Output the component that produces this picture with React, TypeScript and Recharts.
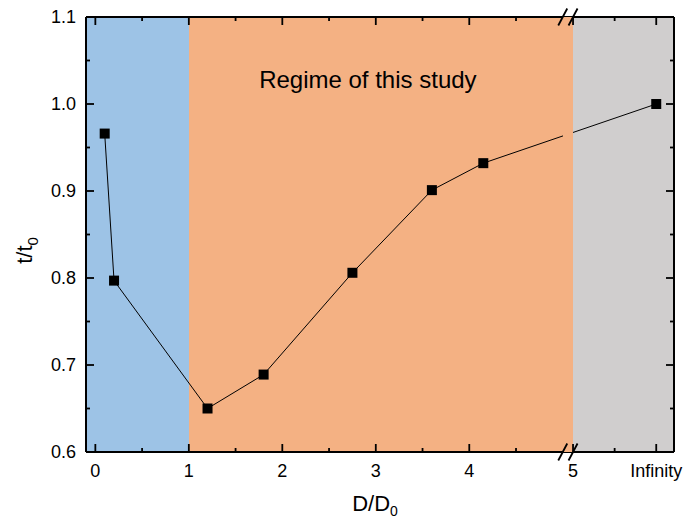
import React from "react";
import { LineChart, Line, XAxis, YAxis, ReferenceArea, ReferenceLine } from "recharts";

// measured points, D/D0 (Infinity = unbounded) vs t/t0
const X_VALUES = [0.1, 0.2, 1.2, 1.8, 2.75, 3.6, 4.15, Infinity];
const T_VALUES = [0.966, 0.797, 0.65, 0.689, 0.806, 0.901, 0.932, 1.0];

const X_MAJOR = [0, 1, 2, 3, 4, 5, Infinity];
const X_LABELS = ["0", "1", "2", "3", "4", "5", "Infinity"];
const X_MINOR = [0.5, 1.5, 2.5, 3.5, 4.5];
const Y_MAJOR = [0.6, 0.7, 0.8, 0.9, 1.0, 1.1];
const Y_MINOR = [0.65, 0.75, 0.85, 0.95, 1.05];

const BLUE = "#9DC3E6";
const ORANGE = "#F4B183";
const GRAY = "#D0CECE";
const FONT = "'Liberation Sans', Arial, sans-serif";

// broken x axis: 0..5 linear, small gap, then 5 .. Infinity
const BREAK_AT = 5;
const GAP = 0.11;
const INF_POS = 6;
const X_DOMAIN: [number, number] = [-0.1, 6.19];
const toAxis = (x: number) => (x === Infinity ? INF_POS : x < BREAK_AT ? x : x + GAP);

const data = X_VALUES.map((x, i) => ({ pos: toAxis(x), t: T_VALUES[i] }));

const xMajorPos = X_MAJOR.map(toAxis);
const xMinorPos = [...X_MINOR.map(toAxis), (toAxis(BREAK_AT) + INF_POS) / 2];
const xTicks = [...xMajorPos, ...xMinorPos].sort((a, b) => a - b);
const yTicks = [...Y_MAJOR, ...Y_MINOR].sort((a, b) => a - b);

const isXMajor = (v: number) => xMajorPos.findIndex((p) => Math.abs(p - v) < 1e-6);
const isYMajor = (v: number) => Y_MAJOR.some((p) => Math.abs(p - v) < 1e-6);

const TICK_W = 1.8;

const BottomTick = (props: any) => {
    const { x, y, payload } = props;
    const i = isXMajor(payload.value);
    return (
        <g>
            <line x1={x} x2={x} y1={y} y2={y - (i >= 0 ? 8 : 4)} stroke="#000" strokeWidth={TICK_W} />
            {i >= 0 && (
                <text x={x} y={y + 25} textAnchor="middle" fontSize={18} fill="#000">
                    {X_LABELS[i]}
                </text>
            )}
        </g>
    );
};

const TopTick = (props: any) => {
    const { x, y, payload } = props;
    const major = isXMajor(payload.value) >= 0;
    return <line x1={x} x2={x} y1={y} y2={y + (major ? 8 : 4)} stroke="#000" strokeWidth={TICK_W} />;
};

const LeftTick = (props: any) => {
    const { x, y, payload } = props;
    const major = isYMajor(payload.value);
    return (
        <g>
            <line x1={x} x2={x + (major ? 8 : 4)} y1={y} y2={y} stroke="#000" strokeWidth={TICK_W} />
            {major && (
                <text x={x - 10} y={y} dy="0.36em" textAnchor="end" fontSize={18} fill="#000">
                    {payload.value.toFixed(1)}
                </text>
            )}
        </g>
    );
};

const RightTick = (props: any) => {
    const { x, y, payload } = props;
    const major = isYMajor(payload.value);
    return <line x1={x} x2={x - (major ? 8 : 4)} y1={y} y2={y} stroke="#000" strokeWidth={TICK_W} />;
};

const SquareDot = (props: any) => {
    const { cx, cy, index } = props;
    return <rect key={`dot-${index}`} x={cx - 5} y={cy - 5} width={10} height={10} fill="#000" />;
};

// the "//" marks on the top and bottom frame at the break
const SLASH_DX = 0.048;
const SLASH_DY = 0.0098;
const slashes = [BREAK_AT, toAxis(BREAK_AT)].flatMap((cx) =>
    [1.1, 0.6].map((cy) => [
        { x: cx - SLASH_DX, y: cy - SLASH_DY },
        { x: cx + SLASH_DX, y: cy + SLASH_DY },
    ])
);

const App: React.FC = () => {
    return (
        <div style={{ position: "absolute", left: 0, top: 0 }}>
            <LineChart
                width={684}
                height={519}
                data={data}
                margin={{ top: 0, right: 0, bottom: 0, left: 0 }}
                style={{ fontFamily: FONT }}
            >
                <XAxis
                    dataKey="pos"
                    type="number"
                    domain={X_DOMAIN}
                    allowDataOverflow
                    ticks={xTicks}
                    interval={0}
                    height={67}
                    tickSize={0}
                    tickMargin={0}
                    tickLine={false}
                    tick={<BottomTick />}
                    axisLine={{ stroke: "#000", strokeWidth: 2 }}
                    label={(p: any) => {
                        const vb = p.viewBox;
                        const cx = vb.x + vb.width / 2 - 5;
                        const by = vb.y + 59;
                        return (
                            <text x={cx} y={by} textAnchor="middle" fontSize={22} fill="#000">
                                D/D<tspan fontSize={14} dy={5}>0</tspan>
                            </text>
                        );
                    }}
                />
                <XAxis
                    xAxisId="top"
                    orientation="top"
                    dataKey="pos"
                    type="number"
                    domain={X_DOMAIN}
                    allowDataOverflow
                    ticks={xTicks}
                    interval={0}
                    height={17}
                    tickSize={0}
                    tickMargin={0}
                    tickLine={false}
                    tick={<TopTick />}
                    axisLine={{ stroke: "#000", strokeWidth: 2 }}
                />
                <YAxis
                    type="number"
                    domain={[0.6, 1.1]}
                    allowDataOverflow
                    ticks={yTicks}
                    interval={0}
                    width={86}
                    tickSize={0}
                    tickMargin={0}
                    tickLine={false}
                    tick={<LeftTick />}
                    axisLine={{ stroke: "#000", strokeWidth: 2 }}
                    label={(p: any) => {
                        const vb = p.viewBox;
                        const bx = vb.x + 32;
                        const cy = vb.y + vb.height / 2 + 16;
                        return (
                            <text
                                x={bx}
                                y={cy}
                                textAnchor="middle"
                                fontSize={22}
                                fill="#000"
                                transform={`rotate(-90, ${bx}, ${cy})`}
                            >
                                t/t<tspan fontSize={15} dy={6}>0</tspan>
                            </text>
                        );
                    }}
                />
                <YAxis
                    yAxisId="right"
                    orientation="right"
                    type="number"
                    domain={[0.6, 1.1]}
                    allowDataOverflow
                    ticks={yTicks}
                    interval={0}
                    width={10}
                    tickSize={0}
                    tickMargin={0}
                    tickLine={false}
                    tick={<RightTick />}
                    axisLine={{ stroke: "#000", strokeWidth: 2 }}
                />

                {/* regime bands */}
                <ReferenceArea
                    x1={X_DOMAIN[0]}
                    x2={toAxis(1)}
                    fill={BLUE}
                    fillOpacity={1}
                    ifOverflow="hidden"
                    shapeRendering="crispEdges"
                />
                <ReferenceArea
                    x1={toAxis(1)}
                    x2={toAxis(BREAK_AT)}
                    fill={ORANGE}
                    fillOpacity={1}
                    ifOverflow="hidden"
                    shapeRendering="crispEdges"
                    label={(p: any) => {
                        const vb = p.viewBox;
                        return (
                            <text
                                x={vb.x + vb.width * 0.466}
                                y={vb.y + 71}
                                textAnchor="middle"
                                fontSize={24}
                                fill="#000"
                            >
                                Regime of this study
                            </text>
                        );
                    }}
                />
                <ReferenceArea
                    x1={toAxis(BREAK_AT)}
                    x2={X_DOMAIN[1]}
                    fill={GRAY}
                    fillOpacity={1}
                    ifOverflow="hidden"
                    shapeRendering="crispEdges"
                />

                <Line
                    type="linear"
                    dataKey="t"
                    stroke="#000"
                    strokeWidth={1}
                    dot={SquareDot}
                    activeDot={false}
                    isAnimationActive={false}
                />

                {/* gap in the line at the axis break */}
                <ReferenceArea
                    x1={BREAK_AT}
                    x2={toAxis(BREAK_AT)}
                    fill={ORANGE}
                    fillOpacity={1}
                    ifOverflow="hidden"
                    shapeRendering="crispEdges"
                    {...({ zIndex: 1000 } as any)}
                />

                {slashes.map((seg, i) => (
                    <ReferenceLine
                        key={`slash-${i}`}
                        segment={seg}
                        stroke="#000"
                        strokeWidth={1.8}
                        ifOverflow="visible"
                        {...({ zIndex: 1100 } as any)}
                    />
                ))}
            </LineChart>
        </div>
    );
};

export default App;
